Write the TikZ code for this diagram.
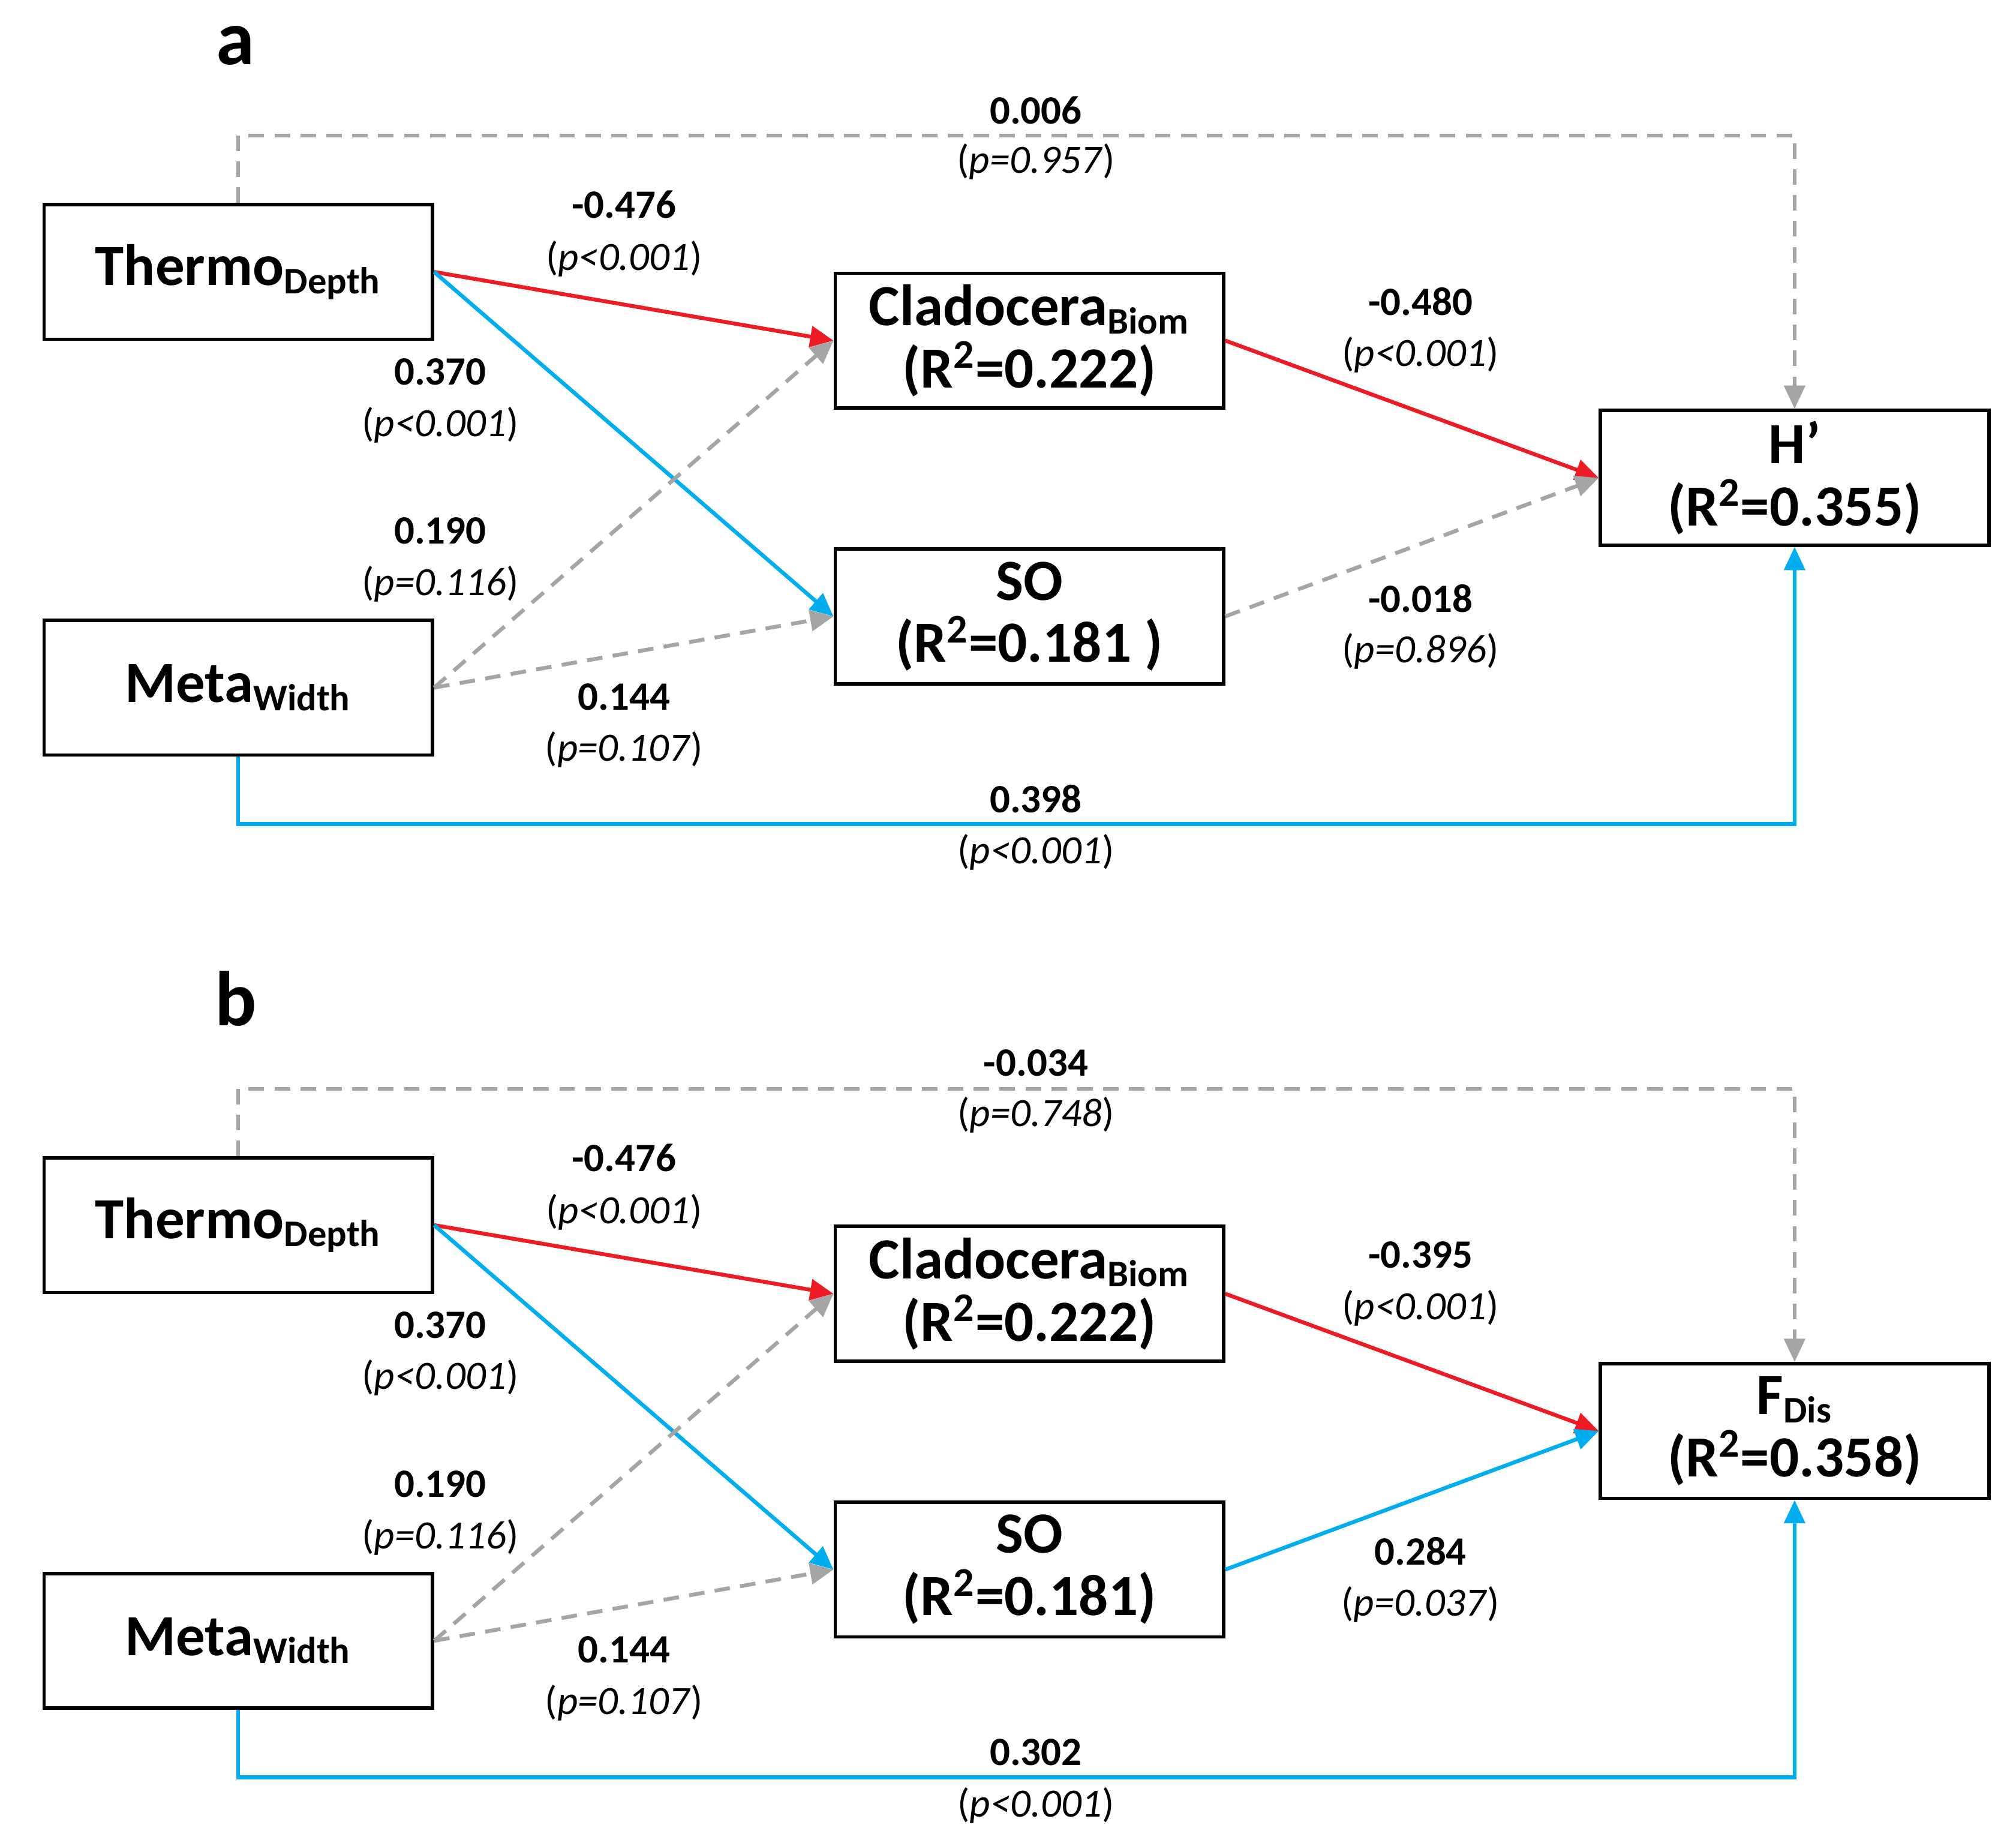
\documentclass[tikz,border=0pt]{standalone}
\usepackage{fontspec}
\setmainfont{Carlito}
\usetikzlibrary{arrows.meta}
\definecolor{sred}{RGB}{237,28,36}
\definecolor{sblue}{RGB}{0,174,239}
\definecolor{sgray}{RGB}{165,165,165}
\tikzset{
 var/.style={draw,line width=1.3pt,minimum width=150pt,minimum height=52pt,inner sep=0pt,align=center,font=\fontsize{22.5}{24}\selectfont\bfseries},
 coef/.style={font=\fontsize{15.5}{17}\selectfont\bfseries},
 pval/.style={font=\fontsize{15.5}{17}\selectfont},
 negpath/.style={->,>={Triangle[length=9pt,width=8pt]},line width=1.5pt,sred},
 pospath/.style={->,>={Triangle[length=9pt,width=8pt]},line width=1.5pt,sblue},
 nspath/.style={->,>={Triangle[length=9pt,width=8pt]},line width=1.5pt,sgray,dash pattern=on 6pt off 4pt},
 panel/.style={font=\fontsize{30}{32}\selectfont\bfseries}
}
\begin{document}
\begin{tikzpicture}[x=0.5pt,y=-0.5pt]
\useasboundingbox (0,0) rectangle (1557,1416);
% panel a
\node[panel] (pa) at (182,35) {a};
\node[var] (aT) at (184,210) {Thermo\textsubscript{\fontsize{14.5}{14}\selectfont Depth}};
\node[var] (aM) at (184,531) {Meta\textsubscript{\fontsize{14.5}{14}\selectfont Width}};
\node[var] (aC) at (795,263) {Cladocera\textsubscript{\fontsize{14.5}{14}\selectfont Biom}\\(R\textsuperscript{2}=0.222)};
\node[var] (aS) at (795,476) {SO\\(R\textsuperscript{2}=0.181 )};
\node[var] (aH) at (1386,369) {H’\\(R\textsuperscript{2}=0.355)};
\draw[nspath] (aT.north) -- ++(0,-52) -| (aH.north);
\draw[negpath] (aT.east) -- (aC.west);
\draw[pospath] (aT.east) -- (aS.west);
\draw[nspath] (aM.east) -- (aC.west);
\draw[nspath] (aM.east) -- (aS.west);
\draw[negpath] (aC.east) -- (aH.west);
\draw[nspath] (aS.east) -- (aH.west);
\draw[pospath] (aM.south) -- ++(0,52) -| (aH.south);
\node[coef] (a1) at (800,85) {0.006}; \node[pval] (a1p) at (800,125) {(\textit{p=0.957})};
\node[coef] (a2) at (482,158) {-0.476}; \node[pval] (a2p) at (482,200) {(\textit{p<0.001})};
\node[coef] (a3) at (340,287) {0.370}; \node[pval] (a3p) at (340,328) {(\textit{p<0.001})};
\node[coef] (a4) at (340,410) {0.190}; \node[pval] (a4p) at (340,451) {(\textit{p=0.116})};
\node[coef] (a5) at (482,538) {0.144}; \node[pval] (a5p) at (482,579) {(\textit{p=0.107})};
\node[coef] (a6) at (1097,233) {-0.480}; \node[pval] (a6p) at (1097,274) {(\textit{p<0.001})};
\node[coef] (a7) at (1097,462) {-0.018}; \node[pval] (a7p) at (1097,503) {(\textit{p=0.896})};
\node[coef] (a8) at (800,617) {0.398}; \node[pval] (a8p) at (800,658) {(\textit{p<0.001})};
% panel b
\node[panel] (pb) at (182,771) {b};
\node[var] (bT) at (184,946) {Thermo\textsubscript{\fontsize{14.5}{14}\selectfont Depth}};
\node[var] (bM) at (184,1267) {Meta\textsubscript{\fontsize{14.5}{14}\selectfont Width}};
\node[var] (bC) at (795,999) {Cladocera\textsubscript{\fontsize{14.5}{14}\selectfont Biom}\\(R\textsuperscript{2}=0.222)};
\node[var] (bS) at (795,1212) {SO\\(R\textsuperscript{2}=0.181)};
\node[var] (bH) at (1386,1105) {F\textsubscript{\fontsize{14.5}{14}\selectfont Dis}\\(R\textsuperscript{2}=0.358)};
\draw[nspath] (bT.north) -- ++(0,-52) -| (bH.north);
\draw[negpath] (bT.east) -- (bC.west);
\draw[pospath] (bT.east) -- (bS.west);
\draw[nspath] (bM.east) -- (bC.west);
\draw[nspath] (bM.east) -- (bS.west);
\draw[negpath] (bC.east) -- (bH.west);
\draw[pospath] (bS.east) -- (bH.west);
\draw[pospath] (bM.south) -- ++(0,52) -| (bH.south);
\node[coef] (b1) at (800,821) {-0.034}; \node[pval] (b1p) at (800,861) {(\textit{p=0.748})};
\node[coef] (b2) at (482,894) {-0.476}; \node[pval] (b2p) at (482,936) {(\textit{p<0.001})};
\node[coef] (b3) at (340,1023) {0.370}; \node[pval] (b3p) at (340,1064) {(\textit{p<0.001})};
\node[coef] (b4) at (340,1146) {0.190}; \node[pval] (b4p) at (340,1187) {(\textit{p=0.116})};
\node[coef] (b5) at (482,1274) {0.144}; \node[pval] (b5p) at (482,1315) {(\textit{p=0.107})};
\node[coef] (b6) at (1097,969) {-0.395}; \node[pval] (b6p) at (1097,1010) {(\textit{p<0.001})};
\node[coef] (b7) at (1097,1198) {0.284}; \node[pval] (b7p) at (1097,1239) {(\textit{p=0.037})};
\node[coef] (b8) at (800,1353) {0.302}; \node[pval] (b8p) at (800,1394) {(\textit{p<0.001})};
\end{tikzpicture}
\end{document}
